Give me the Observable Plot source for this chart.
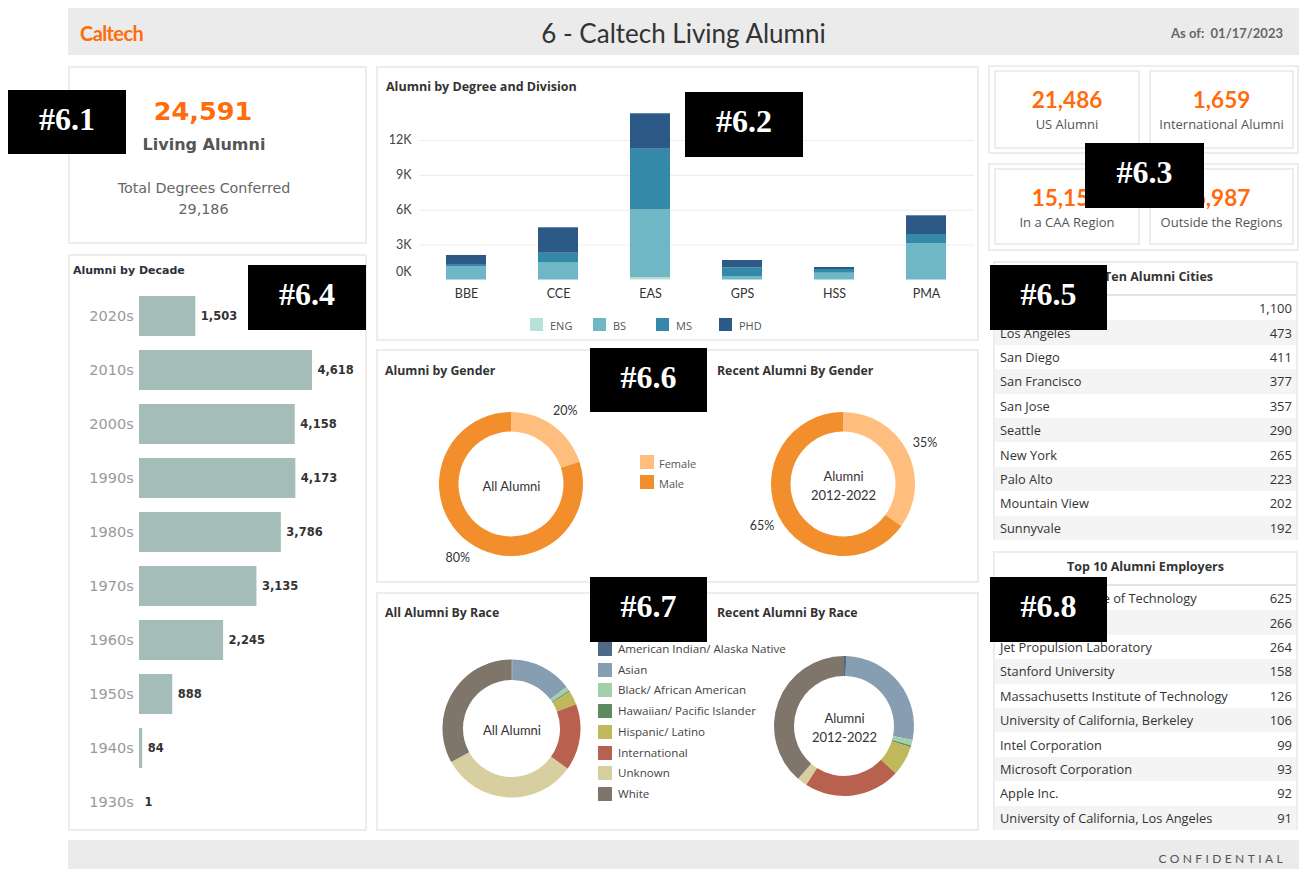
<!DOCTYPE html>
<html><head><meta charset="utf-8">
<script src="https://cdn.jsdelivr.net/npm/d3@7"></script>
<script src="https://cdn.jsdelivr.net/npm/@observablehq/plot@0.6"></script>
<style>
body{margin:0;width:1299px;height:869px;position:relative;background:#fff;font-family:Lato,sans-serif;overflow:hidden}
.panel{position:absolute;border:2px solid #ededed;box-sizing:border-box;background:#fff}
.band{position:absolute;background:#ebebeb}
.tag{position:absolute;background:#000;color:#fff;font-family:"Liberation Serif","DejaVu Serif",serif;font-weight:bold;font-size:32px;display:flex;align-items:center;justify-content:center;box-sizing:border-box;padding-bottom:6px}
.sq{position:absolute}
</style></head><body>
<script>
// ---------- DATA ----------
const decades = ["2020s","2010s","2000s","1990s","1980s","1970s","1960s","1950s","1940s","1930s"];
const decadeCounts = [1503,4618,4158,4173,3786,3135,2245,888,84,1];

const divisions = ["BBE","CCE","EAS","GPS","HSS","PMA"];
const degrees = ["ENG","BS","MS","PHD"];
const engCounts = [0,0,190,0,0,0];
const bsCounts = [1135,1504,5871,301,585,3112];
const msCounts = [200,800,5184,748,318,800];
const phdCounts = [774,2183,3043,627,172,1607];
const degreeColors = ["#b7e2d8","#6fb7c4","#3589a8","#2d5986"];

const genders = ["Female","Male"];
const allGenderPct = [20,80];
const recentGenderPct = [35,65];
const genderColors = ["#ffbe7d","#f28e2b"];

const races = ["American Indian/ Alaska Native","Asian","Black/ African American","Hawaiian/ Pacific Islander","Hispanic/ Latino","International","Unknown","White"];
const allRacePct = [0.2,14.5,1.0,0.3,3.3,15.6,32.0,33.1];
const recentRacePct = [0.5,27.7,1.3,0.4,6.9,22.3,2.3,38.6];
const raceColors = ["#4e6a86","#869db2","#a3d0aa","#5f8a5f","#c0b95c","#b9614f","#d8cfa0","#7f756b"];

// first city and second employer names are hidden under the #6.5 / #6.8 tags in the reference
const cities = ["","Los Angeles","San Diego","San Francisco","San Jose","Seattle","New York","Palo Alto","Mountain View","Sunnyvale"];
const cityCounts = [1100,473,411,377,357,290,265,223,202,192];
const employers = ["California Institute of Technology","","Jet Propulsion Laboratory","Stanford University","Massachusetts Institute of Technology","University of California, Berkeley","Intel Corporation","Microsoft Corporation","Apple Inc.","University of California, Los Angeles"];
const employerCounts = [625,266,264,158,126,106,99,93,92,91];

const kpiLabels = ["US Alumni","International Alumni","In a CAA Region","Outside the Regions"];
const kpiValues = [21486,1659,15154,6987];
const livingAlumni = 24591, totalDegrees = 29186;
const tags = ["#6.1","#6.2","#6.3","#6.4","#6.5","#6.6","#6.7","#6.8"];

// ---------- HELPERS ----------
const fmt = d3.format(",");
const ORANGE = "#ff6c0c";
const SANS = "'Open Sans', sans-serif";
function txt(str, x, y, o={}) {
  const d = document.createElement("div");
  d.textContent = str;
  Object.assign(d.style,{position:"absolute",left:x+"px",top:y+"px",whiteSpace:"pre",lineHeight:"1",
    transform:`translate(${o.anchor==="start"?"0":o.anchor==="end"?"-100%":"-50%"},-50%)`,
    fontSize:(o.size||12)+"px",fontWeight:o.weight||"normal",color:o.color||"#333",
    fontFamily:o.family||"Lato, sans-serif",letterSpacing:(o.ls||0)+"px"});
  document.body.appendChild(d); return d;
}
function box(cls, x, y, w, h, bg) {
  const d = document.createElement("div"); d.className = cls;
  Object.assign(d.style,{left:x+"px",top:y+"px",width:w+"px",height:h+"px"});
  if (bg) d.style.background = bg;
  document.body.appendChild(d); return d;
}
function place(node, x, y) {
  Object.assign(node.style,{position:"absolute",left:x+"px",top:y+"px"});
  document.body.appendChild(node);
}

// ---------- HEADER / FOOTER ----------
box("band",68,8,1231,47);
txt("Caltech",80,33,{anchor:"start",size:20,weight:"bold",color:ORANGE,ls:-0.6});
txt("6 - Caltech Living Alumni",683.5,33,{size:26,color:"#333"});
txt("As of:  01/17/2023",1283,33,{anchor:"end",size:13,weight:"bold",color:"#666"});
box("band",68,840,1231,29);
txt("CONFIDENTIAL",1286,859,{anchor:"end",size:12,color:"#555",ls:3.4});

// ---------- PANELS ----------
box("panel",68,66,299,178);
box("panel",68,254,299,577);
box("panel",376,66,603,275);
box("panel",376,349,603,234);
box("panel",376,592,603,239);
box("panel",988,65,311,89);
box("panel",988,163,311,88);

// ---------- 6.1 ----------
txt(fmt(livingAlumni),203,112,{size:25.5,weight:"bold",color:ORANGE,family:"DejaVu Sans"});
txt("Living Alumni",204,145,{size:16,weight:"bold",color:"#555",family:"DejaVu Sans"});
txt("Total Degrees Conferred",204,188,{size:14.3,color:"#666",family:"DejaVu Sans"});
txt(fmt(totalDegrees),203.5,209,{size:14.3,color:"#666",family:"DejaVu Sans"});

// ---------- 6.3 KPIs ----------
const kpiBoxes = [[994,70,146,79],[1149,70,145,79],[994,168,146,77],[1149,168,145,77]];
kpiBoxes.forEach(([x,y,w,h],i)=>{
  box("panel",x,y,w,h);
  txt(fmt(kpiValues[i]),x+w/2,y+30,{size:22.5,weight:"bold",color:ORANGE});
  txt(kpiLabels[i],x+w/2,y+54,{size:13,color:"#555",family:SANS});
});

// ---------- 6.4 Decades ----------
const decadeRows = decades.map((d,i)=>({decade:d,count:decadeCounts[i]}));
place(Plot.plot({
  width:299,height:542,marginLeft:71,marginRight:55,marginTop:0,marginBottom:0,
  x:{domain:[0,d3.max(decadeCounts)],axis:null},
  y:{domain:decades,paddingInner:0.254,paddingOuter:0.127,label:null},
  style:{fontFamily:"DejaVu Sans",background:"transparent",color:"#9a9a9a",overflow:"visible"},
  marks:[
    Plot.barX(decadeRows,{y:"decade",x:"count",fill:"#a5bdb8"}),
    Plot.text(decadeRows,{y:"decade",x:"count",text:d=>fmt(d.count),textAnchor:"start",dx:5,fontWeight:"bold",fontSize:11.5,fill:"#333"}),
    Plot.axisY({tickSize:0,tickPadding:5.7,fontSize:14.5,label:null})
  ]
}),68,288);
txt("Alumni by Decade",73,270,{anchor:"start",size:11,weight:"bold",color:"#2c2f3c",family:"DejaVu Sans"});

// ---------- 6.2 Degree x Division ----------
const countsByDegree = {ENG:engCounts,BS:bsCounts,MS:msCounts,PHD:phdCounts};
const degreeRows = divisions.flatMap((dv,i)=>degrees.map(g=>({division:dv,degree:g,count:countsByDegree[g][i]})));
const yTicks = [3000,6000,9000,12000];
place(Plot.plot({
  width:603,height:206,marginLeft:43,marginRight:5,marginTop:5,marginBottom:26.5,
  x:{domain:divisions,paddingInner:0.56,paddingOuter:0.28,label:null},
  y:{domain:[0,15000],label:null},
  color:{domain:degrees,range:degreeColors},
  style:{fontFamily:"Lato",background:"transparent",color:"#444",overflow:"visible"},
  marks:[
    Plot.gridY(yTicks,{stroke:"#ececec",strokeOpacity:1}),
    Plot.barY(degreeRows,{x:"division",y:"count",fill:"degree"}),
    Plot.axisY(yTicks,{tickSize:0,tickPadding:8,tickFormat:d=>d/1000+"K",fontSize:12.5,label:null}),
    Plot.text([0],{y:d=>d,frameAnchor:"left",text:d=>d/1000+"K",textAnchor:"end",dx:-8,dy:-8,fontSize:12.5,fill:"#444"}),
    Plot.axisX({tickSize:0,tickPadding:9,fontSize:12.5,label:null,color:"#333"})
  ]
}),376,100);
txt("Alumni by Degree and Division",386,87,{anchor:"start",size:12.5,weight:"bold",color:"#333",family:SANS});
degrees.forEach((g,i)=>{
  const x0 = 530 + i*63;
  box("sq",x0,318,13,13,degreeColors[i]);
  txt(g,x0+20,324.5,{anchor:"start",size:11,color:"#555",family:SANS});
});

// ---------- Donuts ----------
function donut(names, values, colors, R, r, cx, cy, center, showPct) {
  const cscale = Plot.scale({color:{domain:names,range:colors}});
  const rows = names.map((n,i)=>({name:n,value:values[i]}));
  const arcs = d3.pie().sort(null).value(d=>d.value)(rows);
  const ext = 1.5, size = 2*ext*R;
  const labels = arcs.map(a=>{const m=(a.startAngle+a.endAngle)/2; return {x:Math.sin(m)*1.27,y:Math.cos(m)*1.27,t:a.data.value+"%"};});
  const arcMark = (index, scales) => {
    const x0 = scales.x(0), y0 = scales.y(0), Rp = scales.x(1)-x0;
    const g = d3.create("svg:g").attr("transform",`translate(${x0},${y0})`);
    const arc = d3.arc().innerRadius(Rp*r/R).outerRadius(Rp);
    g.selectAll("path").data(arcs).join("path").attr("d",arc).attr("fill",d=>cscale.apply(d.data.name));
    return g.node();
  };
  const marks = [arcMark,
    Plot.text([center],{x:()=>0,y:()=>0,text:d=>d,fontSize:13,fill:"#333",lineHeight:1.45})];
  if (showPct) marks.push(Plot.text(labels,{x:"x",y:"y",text:"t",fontSize:12.5,fill:"#333"}));
  place(Plot.plot({
    width:size,height:size,margin:0,
    x:{domain:[-ext,ext],axis:null},y:{domain:[-ext,ext],axis:null},
    style:{fontFamily:"Lato",background:"transparent",overflow:"visible"},
    marks
  }),cx-size/2,cy-size/2);
}

// ---------- 6.6 Gender ----------
txt("Alumni by Gender",385,371,{anchor:"start",size:12.3,weight:"bold",color:"#333",family:SANS});
txt("Recent Alumni By Gender",717,371,{anchor:"start",size:12.3,weight:"bold",color:"#333",family:SANS});
donut(genders,allGenderPct,genderColors,72,52.5,510.5,483.5,"All Alumni",true);
donut(genders,recentGenderPct,genderColors,72,52.5,842.5,483.5,"Alumni\n2012-2022",true);
genders.forEach((g,i)=>{
  box("sq",640,455+i*20,14,14,genderColors[i]);
  txt(g,659,462.5+i*20,{anchor:"start",size:11,color:"#555",family:SANS});
});

// ---------- 6.7 Race ----------
txt("All Alumni By Race",385,613,{anchor:"start",size:12.3,weight:"bold",color:"#333",family:SANS});
txt("Recent Alumni By Race",717,613,{anchor:"start",size:12.3,weight:"bold",color:"#333",family:SANS});
donut(races,allRacePct,raceColors,69,48.5,511.7,728.8,"All Alumni",false);
donut(races,recentRacePct,raceColors,70,50,844,726,"Alumni\n2012-2022",false);
races.forEach((g,i)=>{
  const yc = 649 + i*20.7;
  box("sq",598,yc-7,14,14,raceColors[i]);
  txt(g,618,yc,{anchor:"start",size:11.6,color:"#444",family:SANS});
});

// ---------- Tables ----------
function table(x,y,w,h,title,names,values){
  box("panel",x,y,w,h);
  txt(title,x+w/2,y+16,{size:12.5,weight:"bold",color:"#333",family:SANS});
  box("sq",x+2,y+33,w-4,2,"#e3e3e3");
  const rh = (h-35)/names.length;
  names.forEach((n,i)=>{
    const top = y+35+i*rh;
    if (i%2===1) box("sq",x+2,top,w-4,rh,"#f4f4f4");
    if (n) txt(n,x+7,top+rh/2,{anchor:"start",size:12.8,color:"#333",family:SANS});
    txt(fmt(values[i]),x+w-6,top+rh/2,{anchor:"end",size:13,color:"#333",family:SANS});
  });
}
table(993,261,305,279,"Top Ten Alumni Cities",cities,cityCounts);
table(993,551,305,279,"Top 10 Alumni Employers",employers,employerCounts);

// ---------- Tags ----------
const tagBoxes = [[8,90,118,64],[685,92,118,65],[1085,143,119,65],[248,265,118,65],[990,265,117,65],[590,348,117,64],[590,577,117,65],[990,577,117,65]];
tagBoxes.forEach(([x,y,w,h],i)=>{ const d = box("tag",x,y,w,h); d.textContent = tags[i]; });
</script>
</body></html>
